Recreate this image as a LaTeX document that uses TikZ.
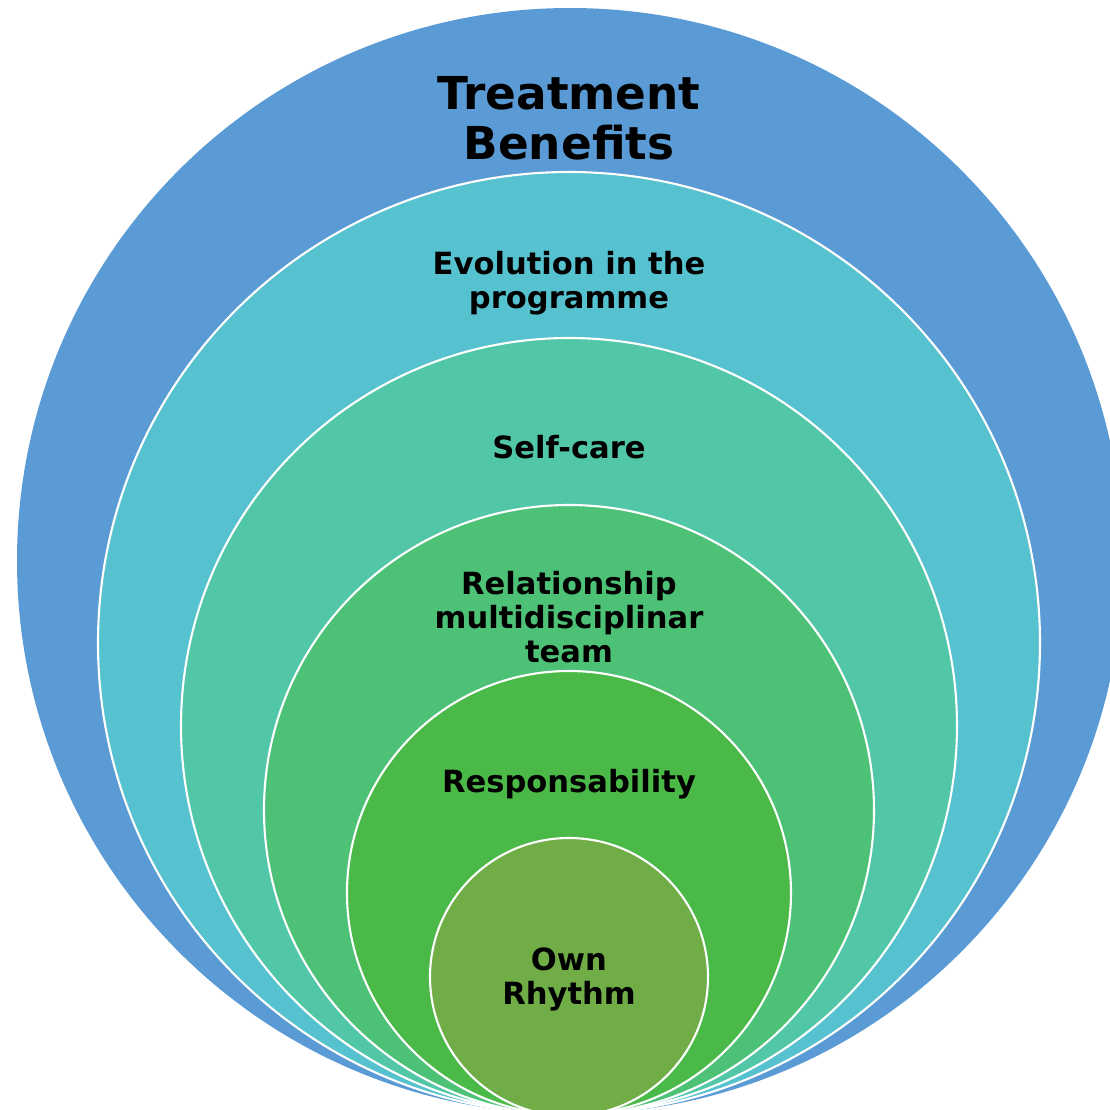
\documentclass[tikz,border=0pt]{standalone}
\usepackage{fontspec}
\setmainfont{DejaVu Sans}
\usetikzlibrary{positioning}

\definecolor{ringblue}{HTML}{5B9BD5}
\definecolor{ringcyan}{HTML}{56C2CF}
\definecolor{ringteal}{HTML}{52C7A8}
\definecolor{ringgreen}{HTML}{4DC277}
\definecolor{ringlime}{HTML}{4BB947}
\definecolor{ringolive}{HTML}{70AD47}

\tikzset{
    ring/.style={circle, draw=white, line width=0.6pt, inner sep=0pt},
    lbl/.style={align=center, text=black, font=\bfseries\fontsize{8.7}{9.7}\selectfont},
    title/.style={align=center, text=black, font=\bfseries\fontsize{12.9}{14.2}\selectfont}
}

\begin{document}
\begin{tikzpicture}

    \useasboundingbox (0,0) rectangle (11.1,11.1);
    \clip (0,0) rectangle (11.1,11.1);

    \node [ring, draw=none, fill=ringblue, minimum size=11.06cm] (C1) at (5.70,5.49) {};
    \node [ring, fill=ringcyan,  minimum size=9.42cm] (C2) at (5.69,4.67) {};
    \node [ring, fill=ringteal,  minimum size=7.76cm] (C3) at (5.69,3.84) {};
    \node [ring, fill=ringgreen, minimum size=6.10cm] (C4) at (5.69,3.00) {};
    \node [ring, fill=ringlime,  minimum size=4.44cm] (C5) at (5.69,2.17) {};
    \node [ring, fill=ringolive, minimum size=2.78cm] (C6) at (5.69,1.33) {};

    \node [title] (T1) at (5.69,9.92) {Treatment\\Benefits};
    \node [lbl] (T2) at (5.69,8.27) {Evolution in the\\programme};
    \node [lbl] (T3) at (5.69,6.63) {Self-care};
    \node [lbl] (T4) at (5.69,4.93) {Relationship\\multidisciplinar\\team};
    \node [lbl] (T5) at (5.69,3.26) {Responsability};
    \node [lbl] (T6) at (5.69,1.31) {Own\\Rhythm};

\end{tikzpicture}
\end{document}
